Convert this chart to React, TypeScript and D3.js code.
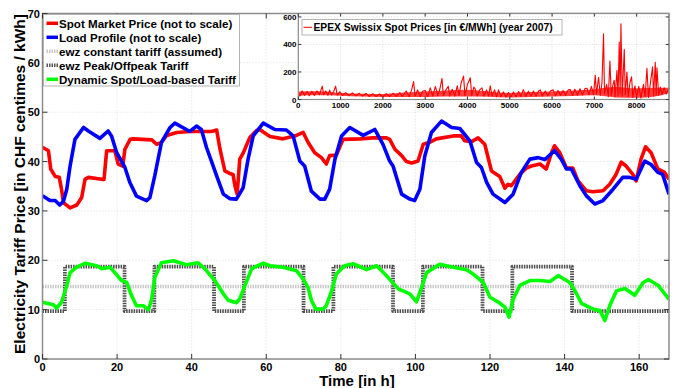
import React from 'react';
import * as d3 from 'd3';

// hourly values, [hour, CHF centimes / kWh]
const spotPrice: [number, number][] = [
  [0, 42.9], [1.6, 42.2], [2.2, 38.5], [3.4, 37.0], [4.5, 36.8], [5.1, 34.4], [5.6, 31.7], [7.4, 30.6],
  [9.2, 31.2], [10.5, 32.7], [11.4, 36.4], [12.3, 36.8], [15.9, 36.4], [16.5, 36.4], [17.2, 42.2],
  [19.4, 42.2], [20.3, 39.5], [21.5, 39.1], [22.1, 42.5], [23.5, 44.5], [24.3, 44.6], [29.3, 44.4],
  [30.6, 43.5], [31.9, 43.9], [33.3, 45.3], [36, 45.9], [39.5, 46.1], [45.3, 46.1], [46.7, 46.4],
  [47.6, 42.5], [48.9, 38.1], [50.2, 37.6], [51.1, 37.4], [51.6, 35.1], [52.2, 33.4], [52.9, 40.5],
  [53.8, 41.7], [55.6, 44.9], [57.4, 46.3], [58.3, 46.5], [59.2, 46.0], [61, 45.1], [64.5, 44.6],
  [68.1, 45.3], [69.9, 45.9], [71.2, 43.9], [73, 41.8], [74.8, 40.8], [76.1, 39.5], [77, 41.2],
  [78.8, 41.3], [80.6, 44.5], [85.1, 44.6], [88.6, 44.8], [92.2, 44.8], [93.1, 44.5], [94.5, 42.5],
  [96.3, 41.2], [97.6, 40.0], [99, 39.7], [100.7, 40.1], [102.1, 43.5], [103.8, 43.9], [105.6, 44.6],
  [110.1, 45.2], [112.3, 45.2], [113.2, 44.2], [115, 44.0], [116.8, 44.8], [118.6, 43.5], [120.4, 38.1],
  [122.6, 37.0], [124, 34.6], [124.8, 35.4], [125.7, 35.1], [128, 37.4], [129.8, 38.7], [131.1, 39.1],
  [133.4, 39.5], [135.1, 38.5], [136.5, 41.8], [137.3, 43.2], [138.7, 41.8], [140.5, 38.7], [142.2, 38.7],
  [143.6, 36.1], [145.8, 34.1], [147.6, 33.9], [150.3, 34.1], [152.1, 35.4], [153.8, 37.4], [155.2, 39.9],
  [156.5, 39.1], [158.3, 37.4], [159.2, 36.1], [160.5, 40.5], [161.7, 43.0], [163.2, 41.8], [165, 38.5],
  [166.8, 37.8], [168, 36.4],
];

const loadProfile: [number, number][] = [
  [0, 33.1], [2, 32.1], [3.4, 32.1], [4.6, 31.2], [5.6, 31.9], [6.5, 34.4], [7.4, 39.1], [8.7, 44.5],
  [11, 46.9], [12.3, 46.2], [15.4, 44.7], [17.6, 46.2], [18.5, 45.2], [19.9, 41.8], [22.1, 38.8],
  [23.4, 35.8], [25.2, 33.0], [27.9, 32.1], [28.8, 32.7], [30.1, 37.1], [31.9, 43.9], [34.2, 46.9],
  [35.5, 47.8], [39.5, 46.1], [41.3, 47.2], [42.6, 46.5], [44, 42.8], [45.3, 40.1], [46.7, 37.1],
  [48.5, 33.4], [50.2, 32.5], [52, 32.4], [53.8, 34.7], [55.1, 40.4], [56.5, 45.2], [59.2, 47.8],
  [62.3, 46.5], [65.4, 46.4], [67.2, 45.2], [69, 40.1], [70.3, 39.1], [72.1, 34.0], [74.4, 32.4],
  [75.7, 32.4], [77, 34.4], [78.4, 40.4], [80.2, 45.2], [82.4, 46.9], [86, 45.3], [89.1, 46.5],
  [91.3, 43.5], [93.1, 40.1], [94, 39.1], [96.3, 33.4], [98.5, 32.4], [99.8, 32.1], [101.2, 34.4],
  [102.5, 41.1], [104.3, 45.9], [107, 48.2], [109.7, 46.9], [111.9, 46.7], [114.6, 44.2], [116.4, 39.8],
  [117.7, 38.8], [119.1, 35.8], [120.8, 33.4], [124, 31.7], [126.2, 33.4], [128.4, 37.8], [130.7, 40.5],
  [132.9, 40.8], [134.7, 40.4], [137.3, 42.2], [139.1, 40.5], [140.5, 38.5], [141.8, 38.5], [144.1, 35.1],
  [145.8, 33.1], [148.1, 31.4], [150.3, 32.1], [153, 34.4], [155.6, 36.8], [157.4, 36.8], [159.2, 36.4],
  [161.5, 40.1], [163.2, 39.4], [165, 37.8], [166.3, 37.4], [168, 33.4],
];

const dynamicTariff: [number, number][] = [
  [0, 11.5], [2.9, 11.0], [3.8, 10.3], [5.1, 11.5], [6.5, 14.9], [7.4, 17.5], [9.2, 18.6], [11.4, 19.4],
  [14.5, 18.9], [15.9, 18.3], [18.1, 18.6], [19.4, 17.5], [21.2, 15.9], [22.6, 15.5], [23.9, 12.8],
  [25.2, 10.8], [27, 10.8], [28.4, 10.0], [29.3, 12.1], [30.1, 16.5], [31.9, 19.5], [35.1, 19.9],
  [38.6, 19.1], [41.7, 19.5], [43.5, 18.3], [46.2, 15.9], [48.5, 13.2], [49.8, 11.9], [52, 11.4],
  [52.9, 12.2], [54.3, 14.9], [56.1, 18.3], [59.2, 19.4], [61, 18.9], [64.5, 18.6], [68.1, 17.9],
  [69.9, 16.2], [71.2, 14.5], [72.1, 11.9], [73.3, 10.1], [75.3, 10.1], [76.1, 10.8], [77.5, 13.7],
  [78.8, 17.2], [81, 18.9], [83.3, 19.3], [86.9, 18.1], [89.6, 18.9], [92.2, 16.9], [95.4, 14.2],
  [98.5, 13.2], [100.3, 11.6], [101.2, 13.5], [103, 17.5], [106.5, 19.2], [110.1, 18.6], [113.7, 18.1],
  [115.5, 17.2], [118.2, 15.5], [120, 12.5], [122.3, 11.5], [124, 10.5], [125.1, 8.5], [126.2, 12.1],
  [128, 14.9], [130.7, 15.9], [133.4, 15.9], [136.1, 15.7], [138.3, 16.9], [141.4, 15.5], [142.8, 13.8],
  [144.6, 11.2], [147.7, 10.1], [149.5, 9.8], [150.8, 7.8], [152.1, 10.8], [153.9, 13.8], [156.2, 14.3],
  [158.8, 12.9], [161.1, 15.5], [162.5, 16.1], [165.1, 14.9], [168, 12.1],
];

// peak/offpeak tariff, value starting at each hour (step)
const peakOffpeak: [number, number][] = [
  [0, 9.7], [6, 18.7], [22, 9.7], [30, 18.7], [46, 9.7], [54, 18.7], [70, 9.7], [78, 18.7],
  [94, 9.7], [102, 18.7], [118, 9.7], [126, 18.7], [142, 9.7], [168, 9.7],
];
const constantTariff = 14.7;

// EPEX Swissix 2007 [hour of year, EUR/MWh], peaks and troughs
const epexYear: [number, number][] = [
  [0, 50], [40, 25], [90, 62], [150, 30], [210, 58], [260, 28], [320, 60], [380, 30], [440, 62], [500, 35],
  [567, 97], [600, 35], [650, 62], [700, 30], [740, 68], [790, 32], [840, 60], [882, 97], [920, 32],
  [980, 55], [1050, 30], [1120, 50], [1200, 28], [1280, 48], [1360, 26], [1440, 45], [1520, 25],
  [1600, 44], [1680, 22], [1760, 42], [1840, 22], [1920, 40], [2000, 20], [2080, 42], [2160, 22],
  [2240, 45], [2320, 22], [2400, 50], [2460, 22], [2550, 62], [2620, 20], [2680, 70], [2726, 130],
  [2760, 25], [2820, 70], [2880, 22], [2940, 60], [3002, 65], [3060, 20], [3120, 85], [3180, 25],
  [3240, 95], [3300, 28], [3350, 80], [3397, 153], [3430, 28], [3490, 70], [3546, 95], [3580, 25],
  [3640, 75], [3700, 25], [3760, 100], [3800, 30], [3850, 120], [3908, 170], [3940, 28], [4000, 110],
  [4066, 158], [4100, 28], [4150, 90], [4184, 75], [4230, 25], [4290, 70], [4342, 85], [4390, 25],
  [4450, 70], [4500, 25], [4539, 100], [4580, 25], [4640, 70], [4690, 20], [4735, 70], [4790, 20],
  [4850, 55], [4910, 18], [4970, 50], [5030, 20], [5090, 55], [5150, 20], [5210, 58], [5260, 22],
  [5320, 72], [5380, 22], [5440, 60], [5500, 25], [5560, 62], [5620, 25], [5680, 62], [5721, 70],
  [5770, 25], [5840, 62], [5900, 28], [5960, 62], [6028, 70], [6080, 28], [6140, 65], [6200, 30],
  [6260, 65], [6320, 30], [6380, 70], [6430, 72], [6480, 30], [6540, 75], [6600, 30], [6660, 78],
  [6720, 32], [6780, 80], [6825, 82], [6870, 35], [6930, 95], [6980, 35], [7021, 176], [7050, 40],
  [7099, 162], [7140, 30], [7180, 120], [7217, 478], [7240, 40], [7290, 110], [7330, 20], [7368, 280],
  [7400, 30], [7440, 110], [7470, 140], [7490, 20], [7534, 210], [7560, 25], [7588, 417], [7610, 40],
  [7628, 550], [7660, 25], [7707, 365], [7730, 35], [7770, 200], [7800, 20], [7840, 120], [7880, 165],
  [7910, 15], [7960, 100], [8000, 20], [8050, 95], [8100, 10], [8160, 110], [8200, 20], [8243, 226],
  [8280, 15], [8330, 130], [8376, 237], [8400, 25], [8440, 270], [8460, 30], [8480, 230], [8520, 30],
  [8560, 90], [8600, 35], [8650, 85], [8700, 40], [8760, 82],
];

// dense daily band of the hourly prices [hour of year, low, high]
const epexBand: [number, number, number][] = [
  [0, 28, 58], [500, 30, 60], [1000, 28, 48], [1500, 22, 42], [2000, 18, 40], [2500, 18, 50],
  [3000, 18, 58], [3500, 22, 65], [4000, 22, 70], [4500, 20, 58], [5000, 15, 48], [5500, 18, 55],
  [6000, 22, 58], [6500, 25, 65], [7000, 30, 75], [7500, 15, 90], [8000, 12, 80], [8400, 20, 85],
  [8760, 45, 85],
];

const xTicks = [0, 20, 40, 60, 80, 100, 120, 140, 160];
const yTicks = [0, 10, 20, 30, 40, 50, 60, 70];
const insetXTicks = [0, 1000, 2000, 3000, 4000, 5000, 6000, 7000, 8000];
const insetYTicks = [0, 200, 400, 600];

const legendItems = [
  { label: 'Spot Market Price (not to scale)', color: '#ff0000', dash: '' },
  { label: 'Load Profile (not to scale)', color: '#0000ff', dash: '' },
  { label: 'ewz constant tariff (assumed)', color: '#c8c8c8', dash: '1.5,1' },
  { label: 'ewz Peak/Offpeak Tariff', color: '#555555', dash: '1.5,1' },
  { label: 'Dynamic Spot/Load-based Tariff', color: '#00ff00', dash: '' },
];

const FONT = '"Liberation Sans", Arial, sans-serif';

export default function App() {
  const left = 42.5, right = 669, top = 13.5, bottom = 359;
  const x = d3.scaleLinear().domain([0, 168]).range([left, right]);
  const y = d3.scaleLinear().domain([0, 70]).range([bottom, top]);

  const line = d3.line<[number, number]>().x((d) => x(d[0])).y((d) => y(d[1]));
  const stepLine = d3.line<[number, number]>().x((d) => x(d[0])).y((d) => y(d[1])).curve(d3.curveStepAfter);

  // inset axes
  const iLeft = 298.3, iRight = 668.8, iTop = 13.5, iBottom = 99.5;
  const ix = d3.scaleLinear().domain([0, 8760]).range([iLeft, iRight]);
  const iy = d3.scaleLinear().domain([0, 625]).range([iBottom, iTop]);
  const iline = d3.line<[number, number]>().x((d) => ix(d[0])).y((d) => iy(d[1]));
  const iband = d3.area<[number, number, number]>()
    .x((d) => ix(d[0])).y0((d) => iy(d[1])).y1((d) => iy(d[2])).curve(d3.curveMonotoneX);

  const axisColor = '#8c8c8c';
  const gridColor = '#d4d4d4';

  return (
    <svg width={676} height={388} style={{ position: 'absolute', left: 0, top: 0, background: '#fff' }}
      fontFamily={FONT} fontWeight="bold">
      <defs>
        <clipPath id="plot">
          <rect x={left} y={top} width={right - left} height={bottom - top} />
        </clipPath>
      </defs>
      <rect x={0} y={0} width={676} height={388} fill="#fff" />

      {/* grid */}
      <g stroke={gridColor} strokeWidth={0.8} strokeDasharray="1,2">
        {xTicks.map((t) => <line key={'gx' + t} x1={x(t)} x2={x(t)} y1={top} y2={bottom} />)}
        {yTicks.map((t) => <line key={'gy' + t} x1={left} x2={right} y1={y(t)} y2={y(t)} />)}
      </g>

      <g clipPath="url(#plot)" fill="none" strokeLinejoin="round">
        <path d={line(spotPrice) || ''} stroke="#ff0000" strokeWidth={3.6} />
        <path d={line(loadProfile) || ''} stroke="#0000ff" strokeWidth={3.6} />
        <line x1={x(0)} x2={x(168)} y1={y(constantTariff)} y2={y(constantTariff)}
          stroke="#c8c8c8" strokeWidth={3.5} strokeDasharray="1.5,1" />
        <path d={stepLine(peakOffpeak) || ''} stroke="#4d4d4d" strokeWidth={3.8} strokeDasharray="1.5,1" />
        <path d={line(dynamicTariff) || ''} stroke="#00ff00" strokeWidth={3.6} />
      </g>

      {/* axes box + ticks */}
      <rect x={left} y={top} width={right - left} height={bottom - top} fill="none" stroke={axisColor} strokeWidth={1.5} />
      <g stroke="#333" strokeWidth={1}>
        {xTicks.map((t) => (
          <g key={'tx' + t}>
            <line x1={x(t)} x2={x(t)} y1={bottom} y2={bottom - 5} />
            <line x1={x(t)} x2={x(t)} y1={top} y2={top + 5} />
          </g>
        ))}
        {yTicks.map((t) => (
          <g key={'ty' + t}>
            <line x1={left} x2={left + 5} y1={y(t)} y2={y(t)} />
            <line x1={right} x2={right - 5} y1={y(t)} y2={y(t)} />
          </g>
        ))}
      </g>
      <g fontSize={11} fill="#000">
        {xTicks.map((t) => (
          <text key={'lx' + t} x={x(t)} y={370.5} textAnchor="middle">{t}</text>
        ))}
        {yTicks.map((t) => (
          <text key={'ly' + t} x={40} y={y(t) + 4} textAnchor="end">{t}</text>
        ))}
      </g>
      <text x={357} y={386} textAnchor="middle" fontSize={15}>Time [in h]</text>
      <text transform="translate(25,184) rotate(-90)" textAnchor="middle" fontSize={15.5}>
        Electricity Tariff Price [in CHF centimes / kWh]
      </text>

      {/* legend */}
      <g>
        <rect x={43.5} y={14.5} width={196} height={71.5} fill="#fff" stroke="#b4b4b4" strokeWidth={1} />
        {legendItems.map((it, i) => {
          const ly = 23.3 + i * 14;
          return (
            <g key={it.label}>
              <line x1={46.5} x2={58} y1={ly} y2={ly} stroke={it.color} strokeWidth={3.5}
                strokeDasharray={it.dash || undefined} />
              <text x={59} y={ly + 4.2} fontSize={11.6} fill="#000">{it.label}</text>
            </g>
          );
        })}
      </g>

      {/* inset: full year spot prices */}
      <g>
        <rect x={iLeft} y={iTop} width={iRight - iLeft} height={iBottom - iTop} fill="#fff" />
        <g stroke={gridColor} strokeWidth={0.8} strokeDasharray="1,2">
          {insetXTicks.map((t) => <line key={'igx' + t} x1={ix(t)} x2={ix(t)} y1={iTop} y2={iBottom} />)}
          {insetYTicks.map((t) => <line key={'igy' + t} x1={iLeft} x2={iRight} y1={iy(t)} y2={iy(t)} />)}
        </g>
        <path d={iband(epexBand) || ''} fill="#ff2020" opacity={0.85} />
        <path d={iline(epexYear) || ''} fill="none" stroke="#ff0000" strokeWidth={1.1} strokeLinejoin="round" />
        <rect x={iLeft} y={iTop} width={iRight - iLeft} height={iBottom - iTop} fill="none" stroke={axisColor} strokeWidth={1.2} />
        <g stroke="#333" strokeWidth={1}>
          {insetXTicks.map((t) => (
            <g key={'itx' + t}>
              <line x1={ix(t)} x2={ix(t)} y1={iBottom} y2={iBottom - 3} />
              <line x1={ix(t)} x2={ix(t)} y1={iTop} y2={iTop + 3} />
            </g>
          ))}
          {insetYTicks.map((t) => (
            <g key={'ity' + t}>
              <line x1={iLeft} x2={iLeft + 3} y1={iy(t)} y2={iy(t)} />
              <line x1={iRight} x2={iRight - 3} y1={iy(t)} y2={iy(t)} />
            </g>
          ))}
        </g>
        <g fontSize={8} fill="#000">
          {insetXTicks.map((t) => (
            <text key={'ilx' + t} x={ix(t)} y={108} textAnchor="middle">{t}</text>
          ))}
          {insetYTicks.map((t) => (
            <text key={'ily' + t} x={296.5} y={iy(t) + 3} textAnchor="end">{t}</text>
          ))}
        </g>
        <rect x={302} y={19.5} width={260} height={15.5} fill="#fff" stroke="#b4b4b4" strokeWidth={1} />
        <line x1={303.5} x2={312} y1={27.3} y2={27.3} stroke="#ff0000" strokeWidth={1} />
        <text x={313.5} y={31} fontSize={10.3} fill="#000">EPEX Swissix Spot Prices [in €/MWh] (year 2007)</text>
      </g>
    </svg>
  );
}
